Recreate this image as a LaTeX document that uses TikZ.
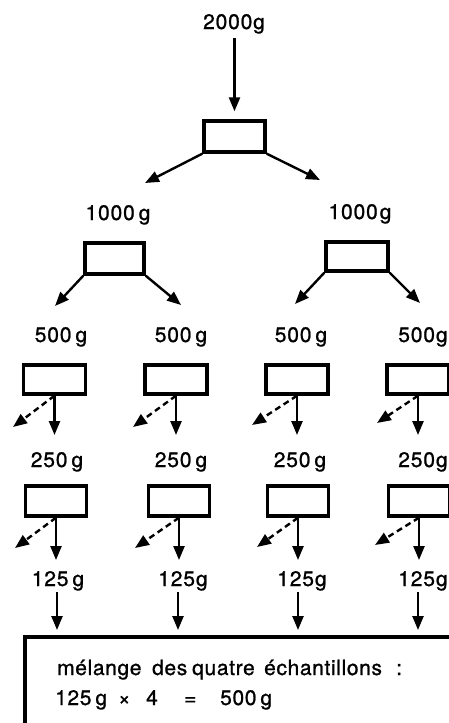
\documentclass[tikz,border=0pt]{standalone}
\usepackage{fontspec}
\setmainfont{TeX Gyre Heros}
\newfontfamily\labfont[LetterSpace=4,FakeBold=1]{TeX Gyre Heros}
\newfontfamily\boxfont[LetterSpace=3,FakeBold=1]{TeX Gyre Heros}
\usetikzlibrary{arrows.meta}
\newcommand{\gsp}{\hspace{4pt}}
\newcommand{\at}[2]{\makebox[#1][l]{#2}}
\begin{document}
\begin{tikzpicture}[x=1pt,y=-1pt,
  sieve/.style={draw, line width=3.4pt, inner sep=0pt, minimum width=61pt, minimum height=30pt},
  wt/.style={font={\labfont\fontsize{21pt}{23pt}\selectfont}, inner sep=0pt, anchor=base},
  flow/.style={line width=2.4pt, -{Triangle[length=14pt,width=11pt]}},
  reject/.style={flow, dash pattern=on 6pt off 4pt},
  note/.style={font={\boxfont\fontsize{21pt}{24pt}\selectfont}, inner sep=0pt, anchor=base west}]
\clip (0,0) rectangle (449,723);
\fill[white] (0,0) rectangle (449,723);

% first split
\node[wt] (w0) at (234,29) {2000g};
\node[sieve, minimum width=61pt, minimum height=31pt] (s0) at (234.5,136.5) {};
\coordinate (in0) at (234.5,38);
\draw[flow, shorten >=8pt] (in0) -- (s0.north);
\coordinate (a1) at (145,183);
\coordinate (a2) at (320,180);
\draw[flow] (s0.south west) -- (a1);
\draw[flow] (s0.south east) -- (a2);

% second split
\node[wt] (w1) at (118,220) {1000\gsp g};
\node[wt] (w2) at (360,219) {1000\hspace{2pt}g};
\node[sieve, minimum width=59pt, minimum height=31pt] (s1) at (114.5,258.5) {};
\node[sieve, minimum width=62pt, minimum height=29pt] (s2) at (357,256.5) {};
\coordinate (b1) at (55,306);
\coordinate (b2) at (181,305);
\coordinate (b3) at (295,304);
\coordinate (b4) at (420,303);
\draw[flow] (s1.south west) -- (b1);
\draw[flow] (s1.south east) -- (b2);
\draw[flow] (s2.south west) -- (b3);
\draw[flow] (s2.south east) -- (b4);

% third split: one half kept, one half rejected
\foreach \i/\bx/\lx/\dx/\dy/\t in {1/54.5/61/13/427/{500\gsp g}, 2/176/181/133/427/{500\gsp g},
    3/297/301/252/425/{500\gsp g}, 4/418/423/377/423/{500\hspace{1pt}g}} {
  \node[wt] (p\i) at (\lx,342) {\t};
  \node[sieve, minimum width=62pt, minimum height=29pt] (q\i) at (\bx,379.5) {};
  \coordinate (qd\i) at (\dx,\dy);
  \coordinate (qk\i) at (\bx,435);
  \draw[reject] (q\i.south) -- (qd\i);
  \draw[flow] (q\i.south) -- (qk\i);
}

% fourth split
\foreach \i/\bx/\lx/\dx/\dy/\t in {1/56/57/15/548/{250\gsp g}, 2/179/181/135/548/{250\gsp g},
    3/298/300/257/547/{250\gsp g}, 4/419/423/375/545/{250\hspace{1pt}g}} {
  \node[wt] (r\i) at (\lx,467) {\t};
  \node[sieve, minimum width=61pt, minimum height=30pt] (u\i) at (\bx,501) {};
  \coordinate (ud\i) at (\dx,\dy);
  \coordinate (uk\i) at (\bx,560);
  \draw[reject] (u\i.south) -- (ud\i);
  \draw[flow] (u\i.south) -- (uk\i);
}

% final portions into the mix
\coordinate (mix) at (25,637);
\foreach \i/\lx/\ax/\t in {1/58/57/{125\gsp g}, 2/183/178/{125\hspace{1pt}g},
    3/302/298/{125\hspace{1pt}g}, 4/423/418/{125\hspace{1pt}g}} {
  \node[wt] (f\i) at (\lx,586) {\t};
  \coordinate (ft\i) at (\ax,592);
  \coordinate (fm\i) at (\ax,630);
  \draw[flow] (ft\i) -- (fm\i);
}

% mixing vessel: open frame running off the page
\draw[line width=3.4pt] (25,760) -- (mix) -- (480,637);
\node[note] (mixtext) at (57,675)
  {\at{95pt}{mélange}\at{40pt}{des}\at{72pt}{quatre}\at{132pt}{échantillons}:};
\node[note] (mixcalc) at (55,705)
  {\at{63pt}{125\gsp g}\at{28pt}{×}\at{38pt}{4}\at{36pt}{=}500\gsp g};
\end{tikzpicture}
\end{document}
